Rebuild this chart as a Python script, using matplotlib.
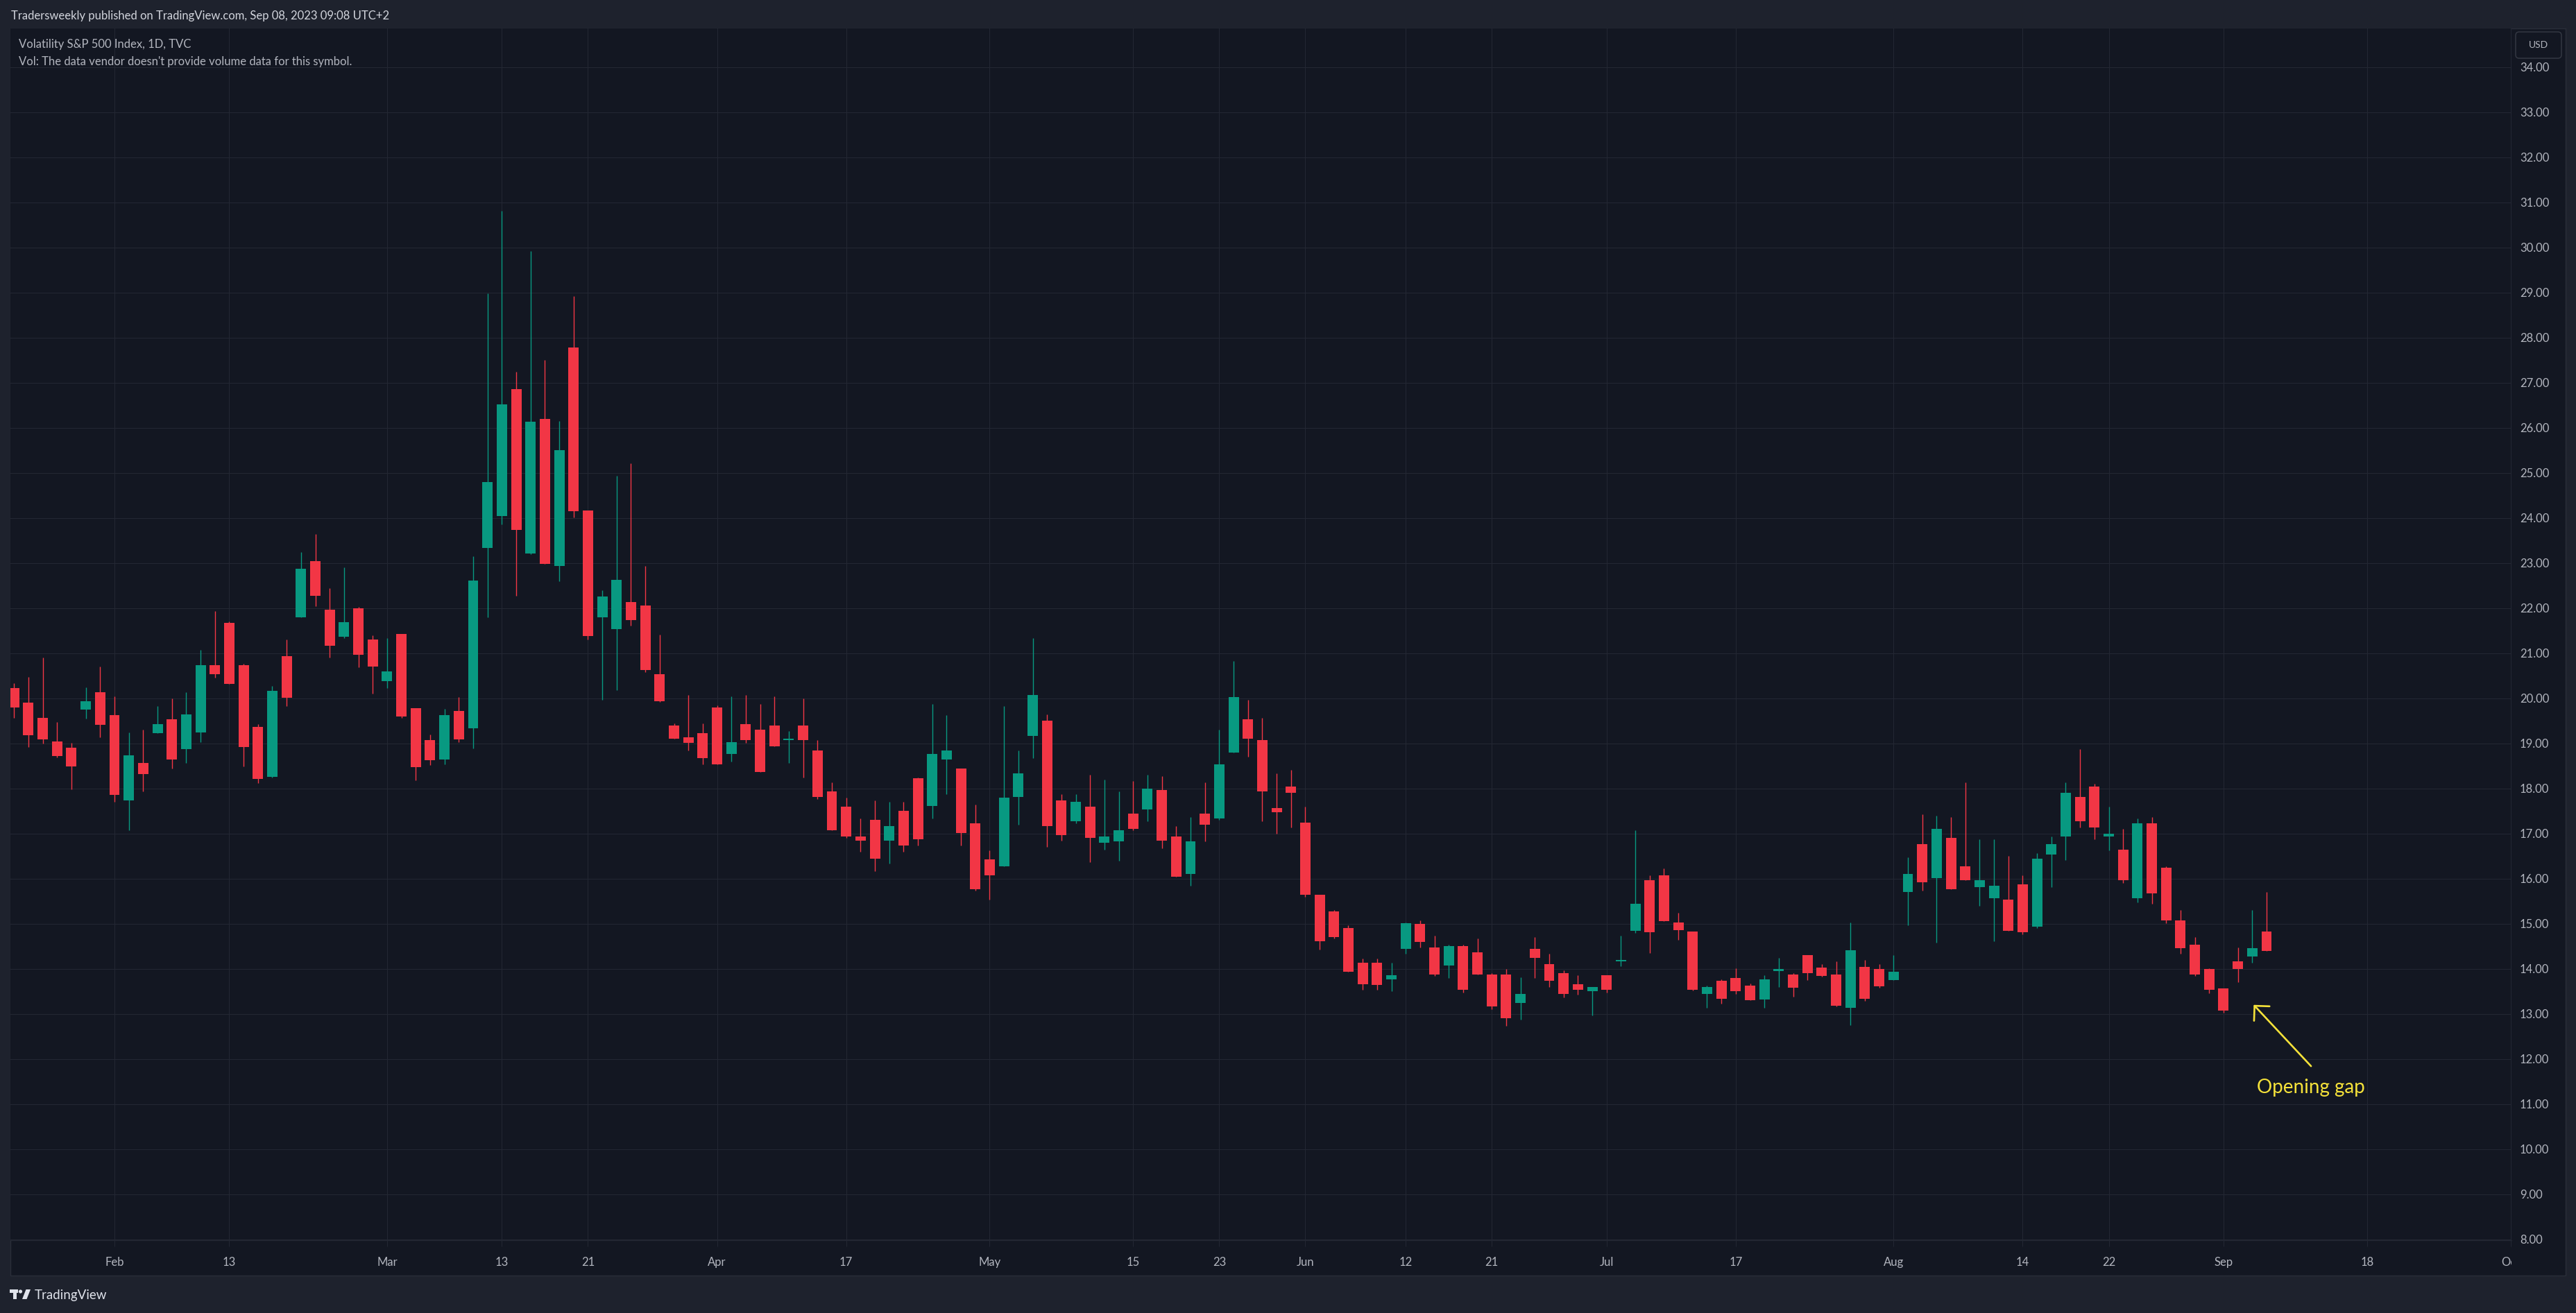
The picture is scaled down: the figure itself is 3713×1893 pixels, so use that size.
import numpy as np
import pandas as pd
import matplotlib
matplotlib.use('Agg')
import matplotlib.pyplot as plt
from matplotlib.patches import Rectangle, FancyBboxPatch, Circle, Polygon

plt.rcParams['font.family'] = ['Lato', 'DejaVu Sans']

# trading days of TVC:VIX (US market holidays removed)
holidays = ['2023-02-20', '2023-04-07', '2023-05-29', '2023-06-19', '2023-07-04', '2023-09-04']
calendar = pd.bdate_range('2023-01-23', '2023-10-02', freq='C', holidays=holidays)

# daily OHLC, Jan 23 - Sep 7 2023
open_ = [20.22, 19.90, 19.56, 19.05, 18.90, 19.75, 20.13, 19.62, 17.73, 18.57,
         19.23, 19.54, 18.87, 19.24, 20.74, 21.67, 20.73, 19.37, 18.26, 20.94,
         21.79, 23.04, 21.97, 21.36, 22.00, 21.31, 20.38, 21.43, 19.78, 19.07,
         18.65, 19.72, 19.33, 23.34, 24.04, 26.86, 23.22, 26.20, 22.93, 27.78,
         24.17, 21.80, 21.54, 22.13, 22.06, 20.53, 19.39, 19.13, 19.22, 19.79,
         18.77, 19.42, 19.30, 19.39, 19.07, 19.39, 18.84, 17.94, 17.59, 16.94,
         17.31, 16.84, 17.51, 18.22, 17.61, 18.65, 18.44, 17.22, 16.42, 16.27,
         17.81, 19.16, 19.50, 17.73, 17.28, 17.59, 16.79, 16.82, 17.45, 17.53,
         17.96, 16.93, 16.11, 17.45, 17.34, 18.79, 19.54, 19.08, 17.56, 18.05,
         17.25, 15.65, 15.28, 14.91, 14.14, 14.14, 13.77, 14.44, 14.99, 14.48,
         14.08, 14.50, 14.36, 13.88, 13.88, 13.24, 14.44, 14.11, 13.91, 13.65,
         13.50, 13.85, 14.17, 14.84, 15.97, 16.08, 15.02, 14.82, 13.44, 13.73,
         13.79, 13.62, 13.32, 13.95, 13.88, 14.30, 14.02, 13.87, 13.13, 14.04,
         13.99, 13.75, 15.70, 16.77, 16.01, 16.91, 16.28, 15.81, 15.57, 15.53,
         15.88, 14.94, 16.53, 16.94, 17.81, 18.04, 16.94, 16.65, 15.56, 17.22,
         16.25, 15.08, 14.54, 13.99, 13.56, 14.16, 14.27, 14.82]
high = [20.33, 20.47, 20.90, 19.48, 19.01, 20.25, 20.70, 20.05, 19.25, 19.30,
        19.82, 19.99, 20.13, 21.08, 21.94, 21.70, 20.76, 19.42, 20.27, 21.30,
        23.25, 23.64, 22.45, 22.91, 22.03, 21.39, 21.34, 21.43, 19.78, 19.20,
        19.76, 20.03, 23.15, 28.98, 30.81, 27.24, 29.92, 27.50, 26.15, 28.92,
        24.17, 22.40, 24.93, 25.22, 22.94, 21.41, 19.45, 20.08, 19.44, 19.84,
        20.04, 20.08, 19.88, 20.05, 19.28, 19.99, 19.07, 18.13, 17.79, 17.34,
        17.73, 17.70, 17.71, 18.25, 19.87, 19.62, 18.44, 17.65, 16.62, 19.82,
        18.84, 21.33, 19.64, 17.88, 17.87, 18.31, 18.19, 17.93, 18.16, 18.30,
        18.27, 17.16, 17.36, 18.13, 19.31, 20.82, 19.96, 19.56, 18.34, 18.41,
        17.59, 15.65, 15.30, 14.97, 14.22, 14.22, 14.14, 15.02, 15.07, 14.74,
        14.53, 14.54, 14.68, 13.90, 13.99, 13.81, 14.71, 14.34, 13.96, 13.85,
        13.59, 13.85, 14.74, 17.08, 16.07, 16.22, 15.25, 14.82, 13.62, 13.76,
        14.01, 13.68, 13.85, 14.24, 13.90, 14.31, 14.10, 14.16, 15.02, 14.19,
        14.10, 14.31, 16.48, 17.42, 17.39, 17.36, 18.14, 16.88, 16.87, 16.51,
        16.07, 16.57, 16.93, 18.13, 18.88, 18.11, 17.59, 17.11, 17.33, 17.36,
        16.28, 15.31, 14.71, 14.01, 13.56, 14.48, 15.31, 15.70]
low = [19.56, 18.92, 18.99, 18.69, 17.98, 19.55, 19.13, 17.70, 17.07, 17.93,
       19.23, 18.44, 18.56, 19.03, 20.46, 20.32, 18.49, 18.12, 18.24, 19.83,
       21.79, 22.04, 20.91, 21.34, 20.69, 20.11, 20.23, 19.57, 18.18, 18.52,
       18.53, 19.03, 18.89, 21.80, 23.86, 22.27, 23.20, 22.98, 22.60, 24.02,
       21.31, 19.96, 20.18, 21.62, 20.58, 19.92, 19.10, 18.85, 18.53, 18.53,
       18.59, 19.01, 18.36, 18.93, 18.56, 18.25, 17.77, 17.07, 16.91, 16.59,
       16.17, 16.33, 16.59, 16.74, 17.33, 17.88, 16.73, 15.73, 15.53, 16.27,
       17.19, 18.68, 16.70, 16.84, 17.22, 16.36, 16.64, 16.39, 17.08, 17.27,
       16.68, 16.04, 15.85, 16.82, 17.31, 18.79, 18.70, 17.28, 16.99, 17.13,
       15.59, 14.42, 14.67, 13.94, 13.54, 13.54, 13.51, 14.33, 14.48, 13.84,
       13.79, 13.48, 13.87, 13.11, 12.74, 12.88, 13.79, 13.59, 13.36, 13.42,
       12.97, 13.48, 14.05, 14.79, 14.35, 15.06, 14.64, 13.52, 13.13, 13.23,
       13.44, 13.30, 13.13, 13.59, 13.38, 13.75, 13.83, 13.16, 12.75, 13.29,
       13.58, 13.75, 14.96, 15.73, 14.58, 15.76, 15.96, 15.39, 14.61, 14.85,
       14.77, 14.91, 15.81, 16.41, 17.14, 16.88, 16.62, 15.91, 15.48, 15.45,
       15.01, 14.34, 13.84, 13.45, 13.02, 13.71, 14.14, 14.39]
close = [19.79, 19.18, 19.09, 18.72, 18.49, 19.93, 19.41, 17.86, 18.73, 18.32,
         19.42, 18.64, 19.65, 20.73, 20.53, 20.32, 18.92, 18.21, 20.16, 20.01,
         22.87, 22.28, 21.17, 21.69, 20.96, 20.71, 20.60, 19.60, 18.48, 18.62,
         19.62, 19.09, 22.62, 24.80, 26.52, 23.73, 26.13, 22.98, 25.51, 24.15,
         21.38, 22.26, 22.63, 21.73, 20.62, 19.94, 19.10, 19.01, 18.68, 18.53,
         19.02, 19.08, 18.37, 18.94, 19.11, 19.07, 17.81, 17.07, 16.93, 16.84,
         16.44, 17.16, 16.74, 16.87, 18.76, 18.85, 17.01, 15.76, 16.07, 17.79,
         18.33, 20.08, 17.17, 16.96, 17.70, 16.91, 16.94, 17.07, 17.10, 17.99,
         16.85, 16.04, 16.82, 17.19, 18.53, 20.02, 19.11, 17.93, 17.47, 17.91,
         15.64, 14.61, 14.71, 13.94, 13.65, 13.64, 13.85, 15.01, 14.59, 13.87,
         14.50, 13.53, 13.87, 13.17, 12.90, 13.44, 14.24, 13.73, 13.44, 13.54,
         13.59, 13.54, 14.19, 15.44, 14.81, 15.06, 14.86, 13.53, 13.59, 13.33,
         13.50, 13.30, 13.76, 13.99, 13.58, 13.90, 13.84, 13.18, 14.41, 13.33,
         13.61, 13.94, 16.11, 15.92, 17.10, 15.76, 15.97, 15.96, 15.85, 14.85,
         14.81, 16.45, 16.77, 17.90, 17.28, 17.13, 16.99, 15.96, 17.22, 15.67,
         15.07, 14.45, 13.87, 13.54, 13.07, 13.99, 14.45, 14.39]

tick_dates = ['2023-02-01', '2023-02-13', '2023-03-01', '2023-03-13', '2023-03-21',
              '2023-04-03', '2023-04-17', '2023-05-01', '2023-05-15', '2023-05-23',
              '2023-06-01', '2023-06-12', '2023-06-21', '2023-07-03', '2023-07-17',
              '2023-08-01', '2023-08-14', '2023-08-22', '2023-09-01', '2023-09-18',
              '2023-10-02']
tick_labels = ['Feb', '13', 'Mar', '13', '21', 'Apr', '17', 'May', '15', '23',
               'Jun', '12', '21', 'Jul', '17', 'Aug', '14', '22', 'Sep', '18', 'Oct']
price_ticks = list(range(8, 35))

# annotation: arrow from below pointing at the Sep 6 gap
gap_tip = (156.1, 13.2)
gap_tail = (160.1, 11.84)
gap_text_y = 11.36

# colours
frame_col = '#1e222d'
pane_col = '#131722'
grid_col = '#232733'
text_col = '#b2b5be'
up_col = '#089981'
down_col = '#f23645'
yellow = '#f5e23a'

W, H = 3713, 1893
fig = plt.figure(figsize=(W / 100, H / 100), dpi=100, facecolor=frame_col)


def fig_box(x0, y0, x1, y1):
    return [x0 / W, 1 - y1 / H, (x1 - x0) / W, (y1 - y0) / H]


# background layer in pixel coordinates
bg = fig.add_axes([0, 0, 1, 1], zorder=-1)
bg.set_xlim(0, W)
bg.set_ylim(H, 0)
bg.axis('off')
bg.add_patch(Rectangle((15, 41), 3683, 1798, facecolor=pane_col, edgecolor='#2a2e39', lw=1))
bg.add_patch(FancyBboxPatch((3626, 46), 66, 38, boxstyle='round,pad=0,rounding_size=5',
                            facecolor=pane_col, edgecolor='#363a45', lw=1))
# TradingView logo
logo_col = '#e0e3eb'
bg.add_patch(Rectangle((14, 1859), 12, 5, color=logo_col, lw=0))
bg.add_patch(Rectangle((18.5, 1859), 5, 14, color=logo_col, lw=0))
bg.add_patch(Circle((29.5, 1862), 2.6, color=logo_col, lw=0))
bg.add_patch(Polygon([(32, 1873), (37.5, 1859), (44, 1859), (38.5, 1873)], color=logo_col, lw=0))

# main price pane
bar_px, first_bar_px = 20.68, 20.24
ax = fig.add_axes(fig_box(15, 41, 3620, 1788))
ax.set_facecolor(pane_col)
for s in ax.spines.values():
    s.set_visible(False)

x = np.arange(len(close))
tick_k = calendar.get_indexer(pd.to_datetime(tick_dates))

ax.set_xlim((15 - first_bar_px) / bar_px, (3620 - first_bar_px) / bar_px)
ax.set_ylim(7.98, 34.86)

ax.set_xticks(tick_k)
ax.set_xticklabels([])
ax.set_yticks(price_ticks)
ax.set_yticklabels([f'{p:.2f}' for p in price_ticks])
ax.yaxis.set_ticks_position('right')
ax.tick_params(axis='x', length=0)
ax.tick_params(axis='y', length=0, pad=8.6, labelsize=12, labelcolor=text_col)
ax.grid(True, color=grid_col, linewidth=0.75)
ax.set_axisbelow(True)

o = np.array(open_)
c = np.array(close)
colors = np.where(c >= o, up_col, down_col)
ax.vlines(x, low, high, colors=colors, lw=1.0, zorder=2)
ax.bar(x, np.maximum(np.abs(c - o), 0.03), bottom=np.minimum(o, c), width=0.725,
       color=colors, linewidth=0, zorder=3)

ax.annotate('', xy=gap_tip, xytext=gap_tail,
            arrowprops=dict(arrowstyle='->,head_length=1.1,head_width=1.1', color=yellow,
                            lw=1.9, shrinkA=0, shrinkB=0, mutation_scale=10), zorder=5)
ax.text(gap_tail[0], gap_text_y, 'Opening gap', ha='center', va='center',
        fontsize=20, color=yellow, zorder=5)

# time axis strip
tax = fig.add_axes(fig_box(15, 1788, 3620, 1839), sharex=ax)
tax.set_ylim(0, 1)
tax.axis('off')
tax.axhline(1, color=grid_col, lw=1, clip_on=False)
tax.vlines(tick_k, 1 - 9 / 51, 1, colors=grid_col, lw=0.75)
for k, lab in zip(tick_k, tick_labels):
    tax.text(k, 0.37, lab, ha='center', va='center', fontsize=12, color=text_col, clip_on=True)

# header and legend texts
fig.text(15.6 / W, 1 - 23 / H, 'Tradersweekly published on TradingView.com, Sep 08, 2023 09:08 UTC+2',
         fontsize=12, color='#d1d4dc', va='center')
fig.text(27 / W, 1 - 64 / H, 'Volatility S&P 500 Index, 1D, TVC', fontsize=12, color=text_col, va='center')
fig.text(27 / W, 1 - 89 / H, "Vol: The data vendor doesn't provide volume data for this symbol.",
         fontsize=12, color=text_col, va='center')
fig.text(3659 / W, 1 - 65 / H, 'USD', fontsize=10, color=text_col, ha='center', va='center')
fig.text(50 / W, 1 - 1867 / H, 'TradingView', fontsize=13.5, color=logo_col, va='center')

fig.savefig('out.png', dpi=100, facecolor=fig.get_facecolor())
